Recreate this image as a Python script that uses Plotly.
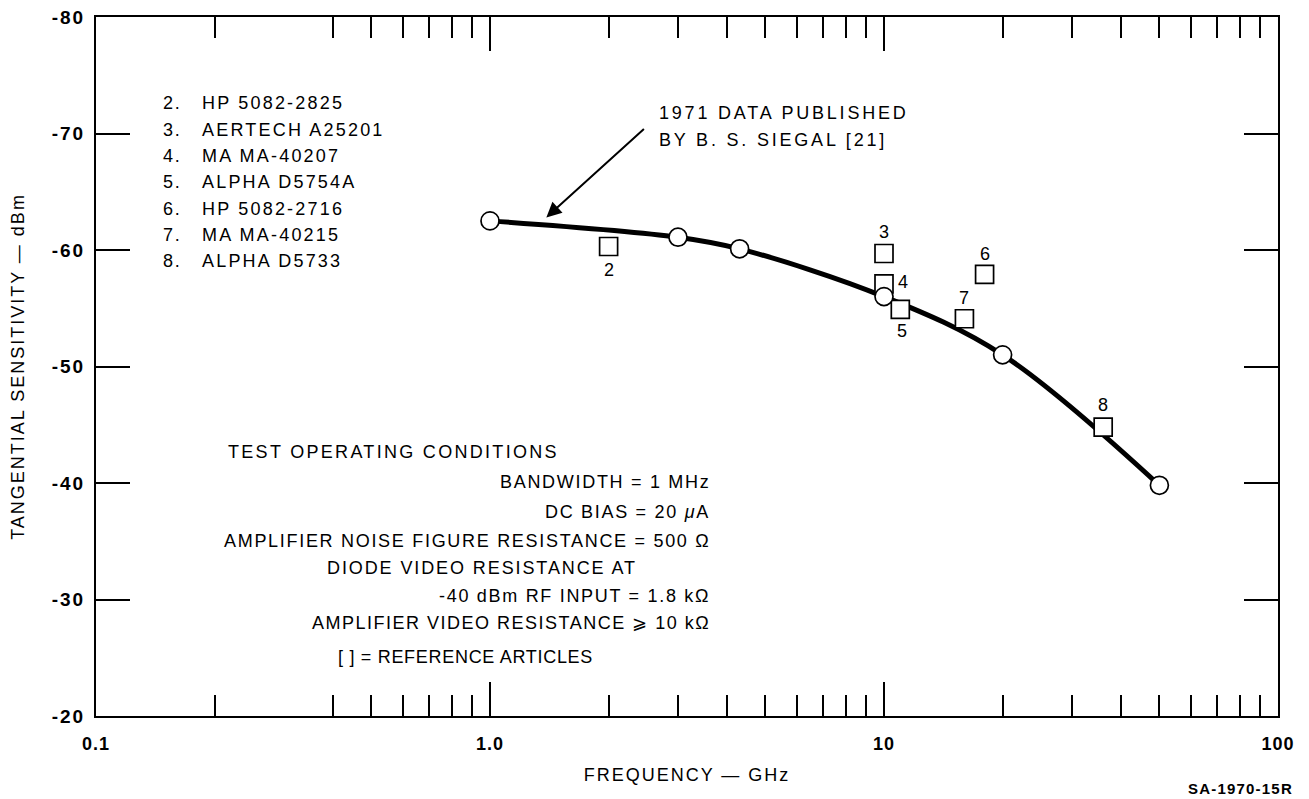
import numpy as np
import plotly.graph_objects as go

# ---- data ----
siegal_freq = [1.0, 3.0, 4.3, 10.0, 20.0, 50.0]
siegal_tss = [-62.5, -61.1, -60.1, -56.0, -51.0, -39.8]

diode_ids = ["2", "3", "4", "5", "6", "7", "8"]
diode_names = ["HP 5082-2825", "AERTECH A25201", "MA MA-40207", "ALPHA D5754A",
               "HP 5082-2716", "MA MA-40215", "ALPHA D5733"]
diode_freq = [2.0, 10.0, 10.0, 11.0, 18.0, 16.0, 36.0]
diode_tss = [-60.3, -59.7, -57.1, -54.9, -57.9, -54.1, -44.8]

x_major = [0.1, 1, 10, 100]
x_major_text = ["0.1", "1.0", "10", "100"]
x_minor = [0.2, 0.4, 0.5, 0.6, 0.7, 0.8, 0.9,
           2, 3, 4, 5, 6, 7, 8, 9,
           20, 30, 40, 50, 60, 70, 80, 90]
y_ticks = [-80, -70, -60, -50, -40, -30, -20]
y_tick_text = ["-80", "-70", "-60", "-50", "-40", "-30", "-20"]

conditions_title = "TEST OPERATING CONDITIONS"
conditions = [
    "BANDWIDTH = 1 MHz",
    "DC BIAS = 20 <i>μ</i>A",
    "AMPLIFIER NOISE FIGURE RESISTANCE = 500 Ω",
    "DIODE VIDEO RESISTANCE AT",
    "-40 dBm RF INPUT = 1.8 kΩ",
    "AMPLIFIER VIDEO RESISTANCE ⩾ 10 kΩ",
]
ref_note = "[ ] = REFERENCE ARTICLES"
callout = ["1971 DATA PUBLISHED", "BY B. S. SIEGAL [21]"]

# ---- style ----
FONT = "Liberation Sans, Arial, Helvetica, sans-serif"
FS = 18


def sp(t, ls=1.8):
    return f'<span style="letter-spacing:{ls}px">{t}</span>'


def tf(size=FS, weight="normal"):
    return dict(size=size, family=FONT, color="black", weight=weight)


fig = go.Figure()

fig.add_trace(go.Scatter(
    x=siegal_freq, y=siegal_tss, mode="lines",
    line=dict(color="black", width=5, shape="spline", smoothing=1.0),
    hoverinfo="skip", showlegend=False))

fig.add_trace(go.Scatter(
    x=diode_freq, y=diode_tss, mode="markers",
    marker=dict(symbol="square", size=18, color="white",
                line=dict(color="black", width=1.7)),
    showlegend=False))

fig.add_trace(go.Scatter(
    x=siegal_freq, y=siegal_tss, mode="markers",
    marker=dict(symbol="circle", size=18, color="white",
                line=dict(color="black", width=1.7)),
    showlegend=False))

ann = []
# labels next to squares (pixel offsets)
label_offsets = {"2": (0, -23), "3": (0, 21), "4": (19, 2), "5": (2, -22),
                 "6": (0, 20), "7": (0, 21), "8": (0, 22)}
for i, f, v in zip(diode_ids, diode_freq, diode_tss):
    dx, dy = label_offsets[i]
    ann.append(dict(x=np.log10(f), y=v, xref="x", yref="y", text=i,
                    showarrow=False, xshift=dx, yshift=dy, font=tf()))

# legend list (upper left)
list_y0, list_dy = -72.6, 2.26
for k, (i, n) in enumerate(zip(diode_ids, diode_names)):
    yy = list_y0 + k * list_dy
    ann.append(dict(x=-0.835, y=yy, xref="x", yref="y", text=sp(i + "."),
                    showarrow=False, xanchor="left", font=tf()))
    ann.append(dict(x=-0.736, y=yy, xref="x", yref="y", text=sp(n, 2.2),
                    showarrow=False, xanchor="left", font=tf()))

# callout
ann.append(dict(x=np.log10(1.39), y=-62.8, xref="x", yref="y",
                ax=np.log10(2.48), ay=-70.5, axref="x", ayref="y",
                text="", showarrow=True, arrowhead=2, arrowsize=1.5,
                arrowwidth=2, arrowcolor="black"))
for k, t in enumerate(callout):
    ann.append(dict(x=0.425, y=-71.76 + k * 2.32, xref="x", yref="y",
                    text=sp(t, 2.8), showarrow=False, xanchor="left", font=tf()))

# test conditions
ann.append(dict(x=-0.67, y=-42.66, xref="x", yref="y",
                text=sp(conditions_title, 2.3), showarrow=False, xanchor="left",
                font=tf()))
cond_y = [-40.09, -37.51, -35.02, -32.70, -30.30, -27.98]
cond_anchor = ["right", "right", "right", "center", "right", "right"]
cond_x = [0.5646, 0.5646, 0.5646, -0.0196, 0.5646, 0.5646]
cond_ls = [1.7, 1.7, 1.7, 1.9, 1.7, 1.5]
for t, yy, xa, xx, ls in zip(conditions, cond_y, cond_anchor, cond_x, cond_ls):
    ann.append(dict(x=xx, y=yy, xref="x", yref="y", text=sp(t, ls),
                    showarrow=False, xanchor=xa, font=tf()))
ann.append(dict(x=-0.0627, y=-25.06, xref="x", yref="y", text=sp(ref_note, 0.7),
                showarrow=False, xanchor="center", font=tf()))

# drawing number
ann.append(dict(x=1.0, y=0, xref="paper", yref="paper", yanchor="middle",
                xanchor="right", xshift=17, yshift=-72,
                text=sp("SA-1970-15R", 1.2), showarrow=False,
                font=tf(15, "bold")))

fig.update_layout(annotations=ann)

fig.update_xaxes(
    type="log", range=[-1, 2], automargin=False,
    tickmode="array", tickvals=x_major,
    ticktext=[sp(t, 1) for t in x_major_text],
    ticks="inside", ticklen=34, tickwidth=2, tickcolor="black",
    minor=dict(tickmode="array", tickvals=x_minor, ticks="inside",
               ticklen=21, tickwidth=2, tickcolor="black", showgrid=False),
    showline=True, linewidth=2, linecolor="black", mirror="ticks",
    showgrid=False, zeroline=False,
    tickfont=tf(18, "bold"), ticklabelstandoff=10, ticklabeloverflow="allow",
    title=dict(text=sp("FREQUENCY — GHz", 2.0), font=tf(), standoff=16),
)
fig.update_yaxes(
    range=[-20, -80], automargin=False,
    tickmode="array", tickvals=y_ticks,
    ticktext=[sp(t, 2) for t in y_tick_text],
    ticks="inside", ticklen=34, tickwidth=2, tickcolor="black",
    showline=True, linewidth=2, linecolor="black", mirror="ticks",
    showgrid=False, zeroline=False,
    tickfont=tf(19, "bold"), ticklabelstandoff=5, ticklabeloverflow="allow",
    title=dict(text=sp("TANGENTIAL SENSITIVITY — dBm", 2.0),
               font=tf(), standoff=22),
)

fig.update_layout(
    width=1301, height=791,
    margin=dict(l=88, r=31, t=9, b=83, autoexpand=False),
    paper_bgcolor="white", plot_bgcolor="white",
    font=tf(),
    showlegend=False,
)

fig.write_html("out.html")
